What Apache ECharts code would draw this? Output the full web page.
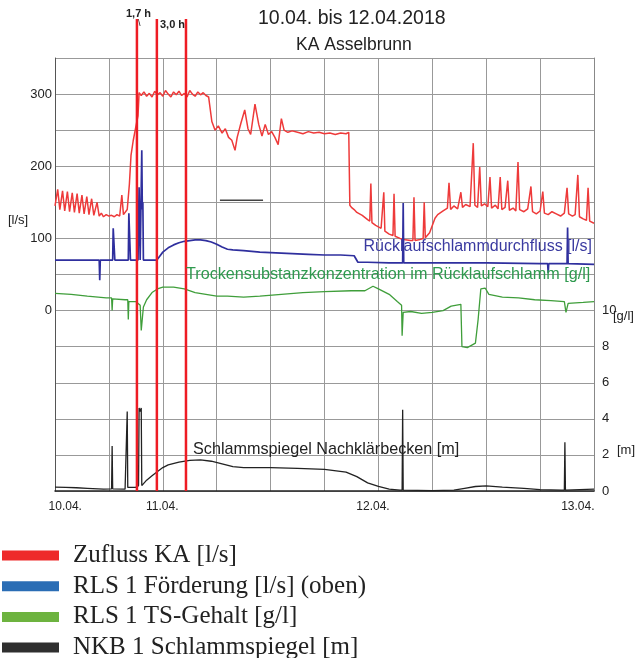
<!DOCTYPE html>
<html><head><meta charset="utf-8">
<script src="https://cdn.jsdelivr.net/npm/echarts@6/dist/echarts.min.js"></script>
<style>html,body{margin:0;padding:0;background:#fff}#c{width:640px;height:658px}</style>
</head><body><div id="c"></div>
<script>
// x in grid divisions (10 divisions span 10.04. - 13.04.)
const xLabelPos = [0.19, 1.99, 5.9, 9.7];
const xLabels = ['10.04.', '11.04.', '12.04.', '13.04.'];
const leftTicks = [0, 100, 200, 300];
const rightTicks = [0, 2, 4, 6, 8, 10];
const seriesNames = ['Zufluss KA [l/s]', 'RLS 1 Förderung [l/s] (oben)', 'RLS 1 TS-Gehalt [g/l]', 'NKB 1 Schlammspiegel [m]'];

const zufluss = [[0,145],[0.05,168],[0.09,140],[0.14,166],[0.18,138],[0.23,165],[0.27,137],[0.32,163],[0.36,136],[0.41,162],[0.45,135],[0.5,160],[0.54,134],[0.59,158],[0.63,133],[0.68,155],[0.72,132],[0.78,150],[0.82,131],[0.86,135],[0.9,130],[0.95,133],[1.0,131],[1.05,132],[1.1,130],[1.15,133],[1.2,131],[1.24,160],[1.27,133],[1.3,132],[1.34,140],[1.38,175],[1.41,215],[1.45,235],[1.5,255],[1.54,270],[1.56,302],
[1.6,298],[1.65,303],[1.7,297],[1.75,301],[1.8,296],[1.85,304],[1.9,299],[1.95,302],[2.0,297],[2.05,305],[2.1,300],[2.15,296],[2.2,303],[2.25,299],[2.3,304],[2.35,298],[2.4,301],[2.45,296],[2.5,305],[2.55,300],[2.6,297],[2.65,303],[2.7,299],[2.75,302],[2.8,298],[2.85,296],
[2.91,262],[2.97,250],[3.03,256],[3.1,246],[3.16,252],[3.22,240],[3.28,236],[3.34,222],[3.38,240],[3.45,260],[3.52,278],[3.58,252],[3.63,244],[3.71,286],[3.78,258],[3.84,242],[3.9,258],[3.96,244],[4.02,248],[4.08,240],[4.14,230],[4.2,266],[4.25,250],[4.32,247],[4.4,249],
[4.5,247],[4.6,245],[4.7,248],[4.8,246],[4.9,247],[5.0,245],[5.1,246],[5.2,244],[5.3,246],[5.4,245],[5.45,247],[5.47,146],[5.5,143],
[5.55,140],[5.6,136],[5.7,132],[5.8,126],[5.84,124],[5.86,176],[5.88,122],[5.95,118],[6.05,114],[6.08,112],[6.1,164],[6.12,110],[6.2,106],[6.27,104],[6.29,162],[6.31,103],[6.4,100],[6.5,98],[6.6,97],[6.64,97],[6.66,157],[6.68,97],[6.75,98],[6.83,100],[6.85,150],[6.87,101],[6.95,108],[7.0,118],[7.05,128],[7.1,133],
[7.2,138],[7.28,142],[7.31,177],[7.34,140],[7.4,145],[7.47,141],[7.53,164],[7.56,143],[7.62,147],[7.7,144],[7.76,232],[7.79,146],[7.84,143],[7.88,199],[7.91,145],[7.97,148],[8.03,144],[8.07,185],[8.1,142],[8.17,146],[8.22,141],[8.26,185],[8.29,140],[8.35,143],[8.4,180],[8.43,139],[8.5,142],[8.55,138],[8.59,206],[8.62,140],[8.7,137],[8.77,141],[8.83,172],[8.86,137],[8.93,134],[9.0,138],[9.05,165],[9.08,135],[9.15,133],[9.22,137],[9.3,134],[9.38,131],[9.45,135],[9.5,170],[9.53,134],[9.6,131],[9.65,133],[9.7,188],[9.73,130],[9.8,127],[9.86,125],[9.89,170],[9.92,124],[10,121]];

const rlsFoerderung = [[0,70],[0.82,70],[0.83,42],[0.84,70],[1.07,70],[1.08,114],[1.1,114],[1.11,70],[1.36,70],[1.37,135],[1.39,135],[1.4,70],[1.54,70],[1.56,171],[1.58,70],[1.6,70],[1.61,222],[1.62,140],[1.63,150],[1.64,70],[1.89,70],
[1.95,76],[2.0,81],[2.1,87],[2.2,91],[2.3,94],[2.4,96],[2.5,97],[2.6,98],[2.7,98],[2.8,97],[2.9,95],[3.0,92],[3.1,88],[3.2,85],[3.3,84],[3.5,83],[3.8,81],[4.1,80],[4.4,79],[4.7,78],[5.0,77],[5.3,77],[5.55,76],[5.62,67],[5.8,67],[6.2,66],[6.45,66],[6.46,149],[6.47,66],[7.0,66],[8.0,66],[9.0,65],[9.14,65],[9.15,52],[9.16,65],[9.5,65],[9.51,115],[9.52,65],[10,64]];

const tsGehalt = [[0,10.95],[0.3,10.9],[0.6,10.8],[0.95,10.7],[1.05,10.7],[1.06,10.0],[1.07,10.65],[1.3,10.6],[1.35,10.6],[1.36,9.5],[1.37,10.5],[1.5,10.5],[1.58,10.3],[1.6,8.9],[1.64,10.2],[1.7,10.6],[1.8,11.0],[1.9,11.2],[2.0,11.3],[2.2,11.3],[2.4,11.2],[2.6,11.0],[2.8,10.9],[3.0,10.8],[3.2,10.8],[3.5,10.75],[3.8,10.8],[4.2,10.9],[4.6,11.0],[5.0,11.05],[5.5,11.1],[5.75,11.1],[5.9,11.35],[6.0,11.2],[6.2,10.9],[6.35,10.5],[6.43,10.3],[6.44,8.6],[6.46,9.9],[6.6,9.95],[6.8,9.85],[7.0,9.9],[7.2,10.0],[7.35,10.25],[7.53,10.35],[7.55,8.0],[7.65,7.95],[7.8,8.2],[7.85,9.5],[7.9,11.2],[7.98,11.25],[8.05,10.9],[8.3,10.75],[8.6,10.7],[8.9,10.6],[9.2,10.55],[9.45,10.5],[9.48,9.9],[9.52,10.4],[9.8,10.45],[10,10.5]];

const schlammspiegel = [[0,0.22],[0.2,0.2],[0.4,0.18],[0.6,0.15],[0.9,0.1],[1.05,0.12],[1.06,2.5],[1.07,0.12],[1.3,0.1],[1.33,0.1],[1.34,4.4],[1.35,0.2],[1.5,0.2],[1.55,0.3],[1.56,4.6],[1.58,4.4],[1.6,4.6],[1.61,0.3],[1.62,0.35],[1.7,0.6],[1.8,0.85],[1.89,1.05],[2.0,1.3],[2.1,1.45],[2.3,1.6],[2.5,1.7],[2.7,1.72],[2.9,1.65],[3.1,1.5],[3.3,1.35],[3.5,1.3],[4.0,1.3],[4.5,1.25],[5.0,1.2],[5.4,1.05],[5.6,0.8],[5.8,0.45],[6.0,0.25],[6.2,0.1],[6.4,0.05],[6.44,0.05],[6.45,4.5],[6.46,0.05],[7.0,0.02],[7.4,0.05],[7.6,0.15],[7.8,0.25],[8.0,0.28],[8.3,0.22],[8.7,0.15],[9.0,0.08],[9.4,0.05],[9.45,0.05],[9.46,2.7],[9.47,0.05],[10,0.1]];

// marker lines (x position) spanning from bottom to above plot
const markerX = [1.52, 1.89, 2.43];
const markerSpan = [-250, 404];
const dashSeg = [[3.06,153],[3.86,153]];

const chart = echarts.init(document.getElementById('c'), null, {renderer:'canvas'});
const FONT = 'Liberation Sans, Arial, sans-serif';
const series = [
 {name: seriesNames[0], type:'line', data: zufluss, yAxisIndex:0, showSymbol:false, lineStyle:{color:'#ee3a3a', width:1.5}, itemStyle:{color:'#ee3a3a'}, z:3},
 {name: seriesNames[1], type:'line', data: rlsFoerderung, yAxisIndex:0, showSymbol:false, lineStyle:{color:'#2f2f9e', width:1.7}, itemStyle:{color:'#2f2f9e'}, z:4},
 {name: seriesNames[2], type:'line', data: tsGehalt, yAxisIndex:1, showSymbol:false, lineStyle:{color:'#3f9e3a', width:1.3}, itemStyle:{color:'#3f9e3a'}, z:4},
 {name: seriesNames[3], type:'line', data: schlammspiegel, yAxisIndex:1, showSymbol:false, lineStyle:{color:'#222', width:1.3}, itemStyle:{color:'#222'}, z:4},
 {name:'dash', type:'line', data: dashSeg, yAxisIndex:0, showSymbol:false, lineStyle:{color:'#444', width:1.5}, z:2}
];
markerX.forEach((x,i)=>{
 series.push({name:'mark'+i, type:'line', clip:false, yAxisIndex:0, showSymbol:false, data: markerSpan.map(v=>[x,v]), lineStyle:{color:'#ee1c24', width:2.5}, z:6});
});

chart.setOption({
 animation:false,
 backgroundColor:'#fff',
 grid:{left:55, right:46, top:58, bottom:167},
 legend:{
  orient:'vertical', left:2, top:543, height:150, padding:0, itemWidth:57, itemHeight:10, itemGap:5.7, icon:'rect',
  textStyle:{fontFamily:'Liberation Serif, DejaVu Serif, serif', fontSize:25, color:'#222', padding:[0,0,0,9]},
  data:[
   {name:seriesNames[0], itemStyle:{color:'#ee2a2a'}},
   {name:seriesNames[1], itemStyle:{color:'#2a6db5'}},
   {name:seriesNames[2], itemStyle:{color:'#6db33f'}},
   {name:seriesNames[3], itemStyle:{color:'#2f2f2f'}}
  ]
 },
 xAxis:{type:'value', min:0, max:10, interval:1,
  axisLine:{show:true, onZero:false, lineStyle:{color:'#222', width:1.5}},
  axisTick:{show:false},
  splitLine:{show:true, lineStyle:{color:'#999', width:1}},
  axisLabel:{customValues:xLabelPos, margin:10, fontFamily:FONT, fontSize:12, color:'#222',
    formatter:(v)=>{const i=xLabelPos.indexOf(v); return i>=0?xLabels[i]:'';}}
 },
 yAxis:[
  {type:'value', min:-250, max:350, interval:50, position:'left',
   axisLine:{show:true, lineStyle:{color:'#555', width:1}}, axisTick:{show:false},
   splitLine:{show:true, lineStyle:{color:'#999', width:1}},
   axisLabel:{margin:3, fontFamily:FONT, fontSize:13, color:'#222',
    formatter:(v)=> leftTicks.indexOf(v)>=0 ? String(v) : ''}
  },
  {type:'value', min:0, max:24, interval:2, position:'right',
   axisLine:{show:true, lineStyle:{color:'#888', width:1}}, axisTick:{show:false},
   splitLine:{show:false},
   axisLabel:{margin:8, fontFamily:FONT, fontSize:13, color:'#222',
    formatter:(v)=> rightTicks.indexOf(v)>=0 ? String(v) : ''}
  }
 ],
 graphic:[
  {type:'text', left:258, top:9, style:{text:'10.04. bis 12.04.2018', font:'19.5px '+FONT, fill:'#222'}},
  {type:'text', left:296, top:36, style:{text:'KA Asselbrunn', font:'17.5px '+FONT, fill:'#222'}},
  {type:'text', left:126, top:8, style:{text:'1,7 h', font:'bold 11px '+FONT, fill:'#222'}},
  {type:'text', left:138, top:19, style:{text:'\\', font:'9px '+FONT, fill:'#222'}},
  {type:'text', left:160, top:19, style:{text:'3,0 h', font:'bold 11px '+FONT, fill:'#222'}},
  {type:'text', left:8, top:214, style:{text:'[l/s]', font:'13px '+FONT, fill:'#222'}},
  {type:'text', left:613, top:310, style:{text:'[g/l]', font:'13px '+FONT, fill:'#222'}},
  {type:'text', left:617, top:444, style:{text:'[m]', font:'13px '+FONT, fill:'#222'}},
  {type:'text', right:48, top:239, style:{text:'Rücklaufschlammdurchfluss [l/s]', font:'16px '+FONT, fill:'#3a3aa0'}, z:10},
  {type:'text', left:186, top:267, style:{text:'Trockensubstanzkonzentration im Rücklaufschlamm [g/l]', font:'16.2px '+FONT, fill:'#2f9a4f'}, z:10},
  {type:'text', left:193, top:442, style:{text:'Schlammspiegel Nachklärbecken [m]', font:'16.2px '+FONT, fill:'#222'}, z:10}
 ],
 series: series
});
</script></body></html>
